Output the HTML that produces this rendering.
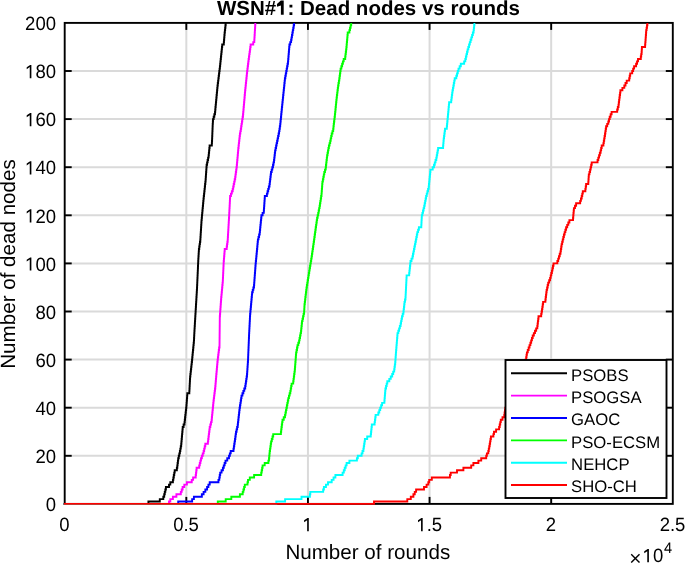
<!DOCTYPE html>
<html><head><meta charset="utf-8"><style>
html,body{margin:0;padding:0;background:#fff;overflow:hidden}
svg{display:block;will-change:transform}
text{font-family:"Liberation Sans",sans-serif;text-rendering:geometricPrecision}
</style></head><body>
<svg width="685" height="563" viewBox="0 0 685 563">
<rect width="685" height="563" fill="#fff"/>
<g stroke="#dadada" stroke-width="2"><line x1="186.32" y1="22.9" x2="186.32" y2="503.9"/><line x1="307.94" y1="22.9" x2="307.94" y2="503.9"/><line x1="429.56" y1="22.9" x2="429.56" y2="503.9"/><line x1="551.18" y1="22.9" x2="551.18" y2="503.9"/><line x1="64.7" y1="455.80" x2="672.8" y2="455.80"/><line x1="64.7" y1="407.70" x2="672.8" y2="407.70"/><line x1="64.7" y1="359.60" x2="672.8" y2="359.60"/><line x1="64.7" y1="311.50" x2="672.8" y2="311.50"/><line x1="64.7" y1="263.40" x2="672.8" y2="263.40"/><line x1="64.7" y1="215.30" x2="672.8" y2="215.30"/><line x1="64.7" y1="167.20" x2="672.8" y2="167.20"/><line x1="64.7" y1="119.10" x2="672.8" y2="119.10"/><line x1="64.7" y1="71.00" x2="672.8" y2="71.00"/></g>
<g stroke="#000" stroke-width="1.9"><line x1="186.32" y1="503.9" x2="186.32" y2="496.9"/><line x1="186.32" y1="22.9" x2="186.32" y2="29.9"/><line x1="307.94" y1="503.9" x2="307.94" y2="496.9"/><line x1="307.94" y1="22.9" x2="307.94" y2="29.9"/><line x1="429.56" y1="503.9" x2="429.56" y2="496.9"/><line x1="429.56" y1="22.9" x2="429.56" y2="29.9"/><line x1="551.18" y1="503.9" x2="551.18" y2="496.9"/><line x1="551.18" y1="22.9" x2="551.18" y2="29.9"/><line x1="64.7" y1="455.80" x2="71.7" y2="455.80"/><line x1="672.8" y1="455.80" x2="665.8" y2="455.80"/><line x1="64.7" y1="407.70" x2="71.7" y2="407.70"/><line x1="672.8" y1="407.70" x2="665.8" y2="407.70"/><line x1="64.7" y1="359.60" x2="71.7" y2="359.60"/><line x1="672.8" y1="359.60" x2="665.8" y2="359.60"/><line x1="64.7" y1="311.50" x2="71.7" y2="311.50"/><line x1="672.8" y1="311.50" x2="665.8" y2="311.50"/><line x1="64.7" y1="263.40" x2="71.7" y2="263.40"/><line x1="672.8" y1="263.40" x2="665.8" y2="263.40"/><line x1="64.7" y1="215.30" x2="71.7" y2="215.30"/><line x1="672.8" y1="215.30" x2="665.8" y2="215.30"/><line x1="64.7" y1="167.20" x2="71.7" y2="167.20"/><line x1="672.8" y1="167.20" x2="665.8" y2="167.20"/><line x1="64.7" y1="119.10" x2="71.7" y2="119.10"/><line x1="672.8" y1="119.10" x2="665.8" y2="119.10"/><line x1="64.7" y1="71.00" x2="71.7" y2="71.00"/><line x1="672.8" y1="71.00" x2="665.8" y2="71.00"/></g>
<rect x="64.7" y="22.9" width="608.0999999999999" height="481.0" fill="none" stroke="#000" stroke-width="1.9"/>
<path d="M63.70,503.90L148.40,503.90L148.40,503.90L148.40,501.50L158.90,501.50L159.80,501.50L159.80,499.09L162.40,499.09L163.30,499.09L163.30,496.69L164.20,496.69L164.20,494.28L164.77,494.28L164.77,491.88L165.33,491.88L165.33,489.47L165.90,489.47L165.90,487.06L167.70,487.06L169.00,487.06L169.00,484.66L170.30,484.66L170.30,482.25L172.90,482.25L172.90,479.85L173.35,479.85L173.35,477.44L173.80,477.44L173.80,475.04L174.25,475.04L174.25,472.63L174.70,472.63L174.70,470.23L176.40,470.23L176.85,470.23L176.85,467.82L177.30,467.82L177.30,465.42L177.60,465.42L177.60,463.01L177.90,463.01L177.90,460.61L178.20,460.61L178.20,458.20L178.77,458.20L178.77,455.80L179.33,455.80L179.33,453.39L179.90,453.39L179.90,450.99L180.33,450.99L180.33,448.58L180.77,448.58L180.77,446.18L181.20,446.18L181.20,443.77L181.41,443.77L181.41,441.37L181.63,441.37L181.63,438.96L181.84,438.96L181.84,436.56L182.06,436.56L182.06,434.15L182.27,434.15L182.27,431.75L182.49,431.75L182.49,429.34L182.70,429.34L182.70,426.94L183.60,426.94L183.60,424.53L184.50,424.53L184.50,422.13L184.77,422.13L184.77,419.72L185.04,419.72L185.04,417.32L185.31,417.32L185.31,414.91L185.59,414.91L185.59,412.51L185.86,412.51L185.86,410.11L186.13,410.11L186.13,407.70L186.40,407.70L186.40,405.29L186.58,405.29L186.58,402.89L186.76,402.89L186.76,400.49L186.94,400.49L186.94,398.08L187.12,398.08L187.12,395.67L187.30,395.67L187.30,393.27L189.20,393.27L189.33,393.27L189.33,390.87L189.46,390.87L189.46,388.46L189.59,388.46L189.59,386.06L189.71,386.06L189.71,383.65L189.84,383.65L189.84,381.25L189.97,381.25L189.97,378.84L190.10,378.84L190.10,376.44L190.37,376.44L190.37,374.03L190.64,374.03L190.64,371.62L190.91,371.62L190.91,369.22L191.19,369.22L191.19,366.81L191.46,366.81L191.46,364.41L191.73,364.41L191.73,362.00L192.00,362.00L192.00,359.60L192.24,359.60L192.24,357.19L192.47,357.19L192.47,354.79L192.71,354.79L192.71,352.38L192.95,352.38L192.95,349.98L193.19,349.98L193.19,347.57L193.43,347.57L193.43,345.17L193.66,345.17L193.66,342.76L193.90,342.76L193.90,340.36L194.03,340.36L194.03,337.95L194.15,337.95L194.15,335.55L194.28,335.55L194.28,333.14L194.40,333.14L194.40,330.74L194.54,330.74L194.54,328.33L194.69,328.33L194.69,325.93L194.83,325.93L194.83,323.52L194.97,323.52L194.97,321.12L195.11,321.12L195.11,318.72L195.26,318.72L195.26,316.31L195.40,316.31L195.40,313.90L195.55,313.90L195.55,311.50L195.69,311.50L195.69,309.10L195.84,309.10L195.84,306.69L195.98,306.69L195.98,304.28L196.13,304.28L196.13,301.88L196.27,301.88L196.27,299.48L196.42,299.48L196.42,297.07L196.56,297.07L196.56,294.66L196.71,294.66L196.71,292.26L196.85,292.26L196.85,289.86L197.00,289.86L197.00,287.45L197.11,287.45L197.11,285.04L197.22,285.04L197.22,282.64L197.32,282.64L197.32,280.24L197.43,280.24L197.43,277.83L197.54,277.83L197.54,275.42L197.65,275.42L197.65,273.02L197.76,273.02L197.76,270.62L197.87,270.62L197.87,268.21L197.98,268.21L197.98,265.81L198.08,265.81L198.08,263.40L198.19,263.40L198.19,261.00L198.30,261.00L198.30,258.59L198.45,258.59L198.45,256.19L198.60,256.19L198.60,253.78L198.75,253.78L198.75,251.38L198.90,251.38L198.90,248.97L199.25,248.97L199.25,246.56L199.60,246.56L199.60,244.16L199.95,244.16L199.95,241.75L200.30,241.75L200.30,239.35L200.45,239.35L200.45,236.94L200.60,236.94L200.60,234.54L200.75,234.54L200.75,232.13L200.90,232.13L200.90,229.73L201.05,229.73L201.05,227.32L201.20,227.32L201.20,224.92L201.35,224.92L201.35,222.51L201.50,222.51L201.50,220.11L201.72,220.11L201.72,217.70L201.94,217.70L201.94,215.30L202.17,215.30L202.17,212.89L202.39,212.89L202.39,210.49L202.61,210.49L202.61,208.08L202.83,208.08L202.83,205.68L203.06,205.68L203.06,203.27L203.28,203.27L203.28,200.87L203.50,200.87L203.50,198.46L203.76,198.46L203.76,196.06L204.03,196.06L204.03,193.66L204.29,193.66L204.29,191.25L204.55,191.25L204.55,188.85L204.81,188.85L204.81,186.44L205.07,186.44L205.07,184.04L205.34,184.04L205.34,181.63L205.60,181.63L205.60,179.23L205.77,179.23L205.77,176.82L205.93,176.82L205.93,174.42L206.10,174.42L206.10,172.01L206.27,172.01L206.27,169.61L206.43,169.61L206.43,167.20L206.60,167.20L206.60,164.80L207.10,164.80L207.10,162.39L207.60,162.39L207.60,159.99L208.10,159.99L208.10,157.58L208.60,157.58L208.60,155.18L208.85,155.18L208.85,152.77L209.10,152.77L209.10,150.37L209.35,150.37L209.35,147.96L209.60,147.96L209.60,145.56L211.70,145.56L211.83,145.56L211.83,143.15L211.97,143.15L211.97,140.75L212.10,140.75L212.10,138.34L212.20,138.34L212.20,135.94L212.30,135.94L212.30,133.53L212.40,133.53L212.40,131.12L212.50,131.12L212.50,128.72L212.60,128.72L212.60,126.31L212.70,126.31L212.70,123.91L212.85,123.91L212.85,121.50L213.00,121.50L213.00,119.10L213.67,119.10L213.67,116.69L214.33,116.69L214.33,114.29L215.00,114.29L215.00,111.88L215.23,111.88L215.23,109.48L215.45,109.48L215.45,107.07L215.68,107.07L215.68,104.67L215.91,104.67L215.91,102.26L216.14,102.26L216.14,99.86L216.36,99.86L216.36,97.45L216.59,97.45L216.59,95.05L216.82,95.05L216.82,92.65L217.05,92.65L217.05,90.24L217.27,90.24L217.27,87.84L217.50,87.84L217.50,85.43L217.80,85.43L217.80,83.03L218.10,83.03L218.10,80.62L218.40,80.62L218.40,78.22L218.70,78.22L218.70,75.81L219.00,75.81L219.00,73.41L219.30,73.41L219.30,71.00L219.60,71.00L219.60,68.60L219.90,68.60L219.90,66.19L220.16,66.19L220.16,63.79L220.41,63.79L220.41,61.38L220.67,61.38L220.67,58.98L220.92,58.98L220.92,56.57L221.18,56.57L221.18,54.17L221.43,54.17L221.43,51.76L221.69,51.76L221.69,49.36L221.94,49.36L221.94,46.95L222.20,46.95L222.20,44.55L223.60,44.55L223.80,44.55L223.80,42.14L224.00,42.14L224.00,39.74L224.20,39.74L224.20,37.33L224.40,37.33L224.40,34.93L224.60,34.93L224.60,32.52L224.88,32.52L224.88,30.12L225.15,30.12L225.15,27.71L225.42,27.71L225.42,25.31L225.70,25.31L225.70,22.90" fill="none" stroke="#000000" stroke-width="1.9" stroke-linejoin="miter"/>
<path d="M63.70,503.90L168.50,503.90L169.00,503.90L169.00,501.50L170.30,501.50L170.30,499.09L172.90,499.09L172.90,496.69L176.40,496.69L176.40,494.28L180.80,494.28L180.80,491.88L181.70,491.88L181.70,489.47L182.60,489.47L182.60,487.06L184.30,487.06L184.30,484.66L186.90,484.66L186.90,482.25L190.40,482.25L191.75,482.25L191.75,479.85L193.10,479.85L193.10,477.44L195.70,477.44L195.70,475.04L196.00,475.04L196.00,472.63L196.30,472.63L196.30,470.23L196.60,470.23L196.60,467.82L199.20,467.82L199.20,465.42L199.80,465.42L199.80,463.01L200.40,463.01L200.40,460.61L201.00,460.61L201.00,458.20L201.87,458.20L201.87,455.80L202.73,455.80L202.73,453.39L203.60,453.39L203.60,450.99L204.17,450.99L204.17,448.58L204.73,448.58L204.73,446.18L205.30,446.18L205.30,443.77L207.90,443.77L207.90,441.37L208.20,441.37L208.20,438.96L208.50,438.96L208.50,436.56L208.80,436.56L208.80,434.15L209.10,434.15L209.10,431.75L209.40,431.75L209.40,429.34L209.70,429.34L209.70,426.94L210.33,426.94L210.33,424.53L210.97,424.53L210.97,422.13L211.60,422.13L211.60,419.72L211.84,419.72L211.84,417.32L212.07,417.32L212.07,414.91L212.31,414.91L212.31,412.51L212.55,412.51L212.55,410.11L212.79,410.11L212.79,407.70L213.03,407.70L213.03,405.29L213.26,405.29L213.26,402.89L213.50,402.89L213.50,400.49L213.80,400.49L213.80,398.08L214.10,398.08L214.10,395.67L214.40,395.67L214.40,393.27L214.70,393.27L214.70,390.87L215.00,390.87L215.00,388.46L215.30,388.46L215.30,386.06L215.50,386.06L215.50,383.65L215.70,383.65L215.70,381.25L215.90,381.25L215.90,378.84L216.10,378.84L216.10,376.44L216.30,376.44L216.30,374.03L216.52,374.03L216.52,371.62L216.73,371.62L216.73,369.22L216.95,369.22L216.95,366.81L217.17,366.81L217.17,364.41L217.38,364.41L217.38,362.00L217.60,362.00L217.60,359.60L217.90,359.60L217.90,357.19L218.20,357.19L218.20,354.79L218.50,354.79L218.50,352.38L218.80,352.38L218.80,349.98L219.10,349.98L219.10,347.57L219.50,347.57L219.50,345.17L219.53,345.17L219.53,342.76L219.55,342.76L219.55,340.36L219.57,340.36L219.57,337.95L219.60,337.95L219.60,335.55L219.62,335.55L219.62,333.14L219.65,333.14L219.65,330.74L219.68,330.74L219.68,328.33L219.70,328.33L219.70,325.93L219.73,325.93L219.73,323.52L219.75,323.52L219.75,321.12L219.78,321.12L219.78,318.72L219.80,318.72L219.80,316.31L219.98,316.31L219.98,313.90L220.15,313.90L220.15,311.50L220.32,311.50L220.32,309.10L220.50,309.10L220.50,306.69L220.68,306.69L220.68,304.28L220.85,304.28L220.85,301.88L221.02,301.88L221.02,299.48L221.20,299.48L221.20,297.07L221.43,297.07L221.43,294.66L221.66,294.66L221.66,292.26L221.89,292.26L221.89,289.86L222.11,289.86L222.11,287.45L222.34,287.45L222.34,285.04L222.57,285.04L222.57,282.64L222.80,282.64L222.80,280.24L222.91,280.24L222.91,277.83L223.03,277.83L223.03,275.42L223.14,275.42L223.14,273.02L223.25,273.02L223.25,270.62L223.36,270.62L223.36,268.21L223.47,268.21L223.47,265.81L223.59,265.81L223.59,263.40L223.70,263.40L223.70,261.00L223.90,261.00L223.90,258.59L224.10,258.59L224.10,256.19L224.30,256.19L224.30,253.78L224.50,253.78L224.50,251.38L224.70,251.38L224.70,248.97L226.70,248.97L226.70,246.56L227.03,246.56L227.03,244.16L227.37,244.16L227.37,241.75L227.70,241.75L227.70,239.35L227.84,239.35L227.84,236.94L227.98,236.94L227.98,234.54L228.12,234.54L228.12,232.13L228.26,232.13L228.26,229.73L228.40,229.73L228.40,227.32L228.54,227.32L228.54,224.92L228.68,224.92L228.68,222.51L228.82,222.51L228.82,220.11L228.96,220.11L228.96,217.70L229.10,217.70L229.10,215.30L229.22,215.30L229.22,212.89L229.35,212.89L229.35,210.49L229.47,210.49L229.47,208.08L229.60,208.08L229.60,205.68L229.72,205.68L229.72,203.27L229.85,203.27L229.85,200.87L229.97,200.87L229.97,198.46L230.10,198.46L230.10,196.06L230.97,196.06L230.97,193.66L231.83,193.66L231.83,191.25L232.70,191.25L232.70,188.85L233.20,188.85L233.20,186.44L233.70,186.44L233.70,184.04L234.20,184.04L234.20,181.63L234.70,181.63L234.70,179.23L235.20,179.23L235.20,176.82L235.52,176.82L235.52,174.42L235.84,174.42L235.84,172.01L236.16,172.01L236.16,169.61L236.48,169.61L236.48,167.20L236.80,167.20L236.80,164.80L237.01,164.80L237.01,162.39L237.23,162.39L237.23,159.99L237.44,159.99L237.44,157.58L237.66,157.58L237.66,155.18L237.87,155.18L237.87,152.77L238.09,152.77L238.09,150.37L238.30,150.37L238.30,147.96L238.57,147.96L238.57,145.56L238.83,145.56L238.83,143.15L239.10,143.15L239.10,140.75L239.37,140.75L239.37,138.34L239.63,138.34L239.63,135.94L239.90,135.94L239.90,133.53L240.35,133.53L240.35,131.12L240.80,131.12L240.80,128.72L241.17,128.72L241.17,126.31L241.53,126.31L241.53,123.91L241.90,123.91L241.90,121.50L242.27,121.50L242.27,119.10L242.63,119.10L242.63,116.69L243.00,116.69L243.00,114.29L243.21,114.29L243.21,111.88L243.42,111.88L243.42,109.48L243.63,109.48L243.63,107.07L243.84,107.07L243.84,104.67L244.05,104.67L244.05,102.26L244.26,102.26L244.26,99.86L244.47,99.86L244.47,97.45L244.68,97.45L244.68,95.05L244.89,95.05L244.89,92.65L245.10,92.65L245.10,90.24L245.35,90.24L245.35,87.84L245.60,87.84L245.60,85.43L245.85,85.43L245.85,83.03L246.10,83.03L246.10,80.62L246.35,80.62L246.35,78.22L246.60,78.22L246.60,75.81L246.85,75.81L246.85,73.41L247.10,73.41L247.10,71.00L247.40,71.00L247.40,68.60L247.70,68.60L247.70,66.19L248.00,66.19L248.00,63.79L248.30,63.79L248.30,61.38L248.60,61.38L248.60,58.98L248.93,58.98L248.93,56.57L249.27,56.57L249.27,54.17L249.60,54.17L249.60,51.76L249.93,51.76L249.93,49.36L250.27,49.36L250.27,46.95L250.60,46.95L250.60,44.55L252.20,44.55L253.25,44.55L253.25,42.14L254.30,42.14L254.30,39.74L254.44,39.74L254.44,37.33L254.59,37.33L254.59,34.93L254.73,34.93L254.73,32.52L254.87,32.52L254.87,30.12L255.01,30.12L255.01,27.71L255.16,27.71L255.16,25.31L255.30,25.31L255.30,22.90" fill="none" stroke="#ff00ff" stroke-width="1.9" stroke-linejoin="miter"/>
<path d="M63.70,503.90L178.20,503.90L178.20,503.90L178.20,501.50L190.40,501.50L192.15,501.50L192.15,499.09L193.90,499.09L193.90,496.69L200.10,496.69L201.85,496.69L201.85,494.28L203.60,494.28L203.60,491.88L205.35,491.88L205.35,489.47L207.10,489.47L207.10,487.06L208.40,487.06L208.40,484.66L209.70,484.66L209.70,482.25L212.30,482.25L217.60,482.25L218.45,482.25L218.45,479.85L219.30,479.85L219.30,477.44L219.75,477.44L219.75,475.04L220.20,475.04L220.20,472.63L221.55,472.63L221.55,470.23L222.90,470.23L222.90,467.82L223.77,467.82L223.77,465.42L224.63,465.42L224.63,463.01L225.50,463.01L225.50,460.61L227.25,460.61L227.25,458.20L229.00,458.20L229.00,455.80L229.85,455.80L229.85,453.39L230.70,453.39L230.70,450.99L233.50,450.99L233.50,448.58L233.88,448.58L233.88,446.18L234.25,446.18L234.25,443.77L234.62,443.77L234.62,441.37L235.00,441.37L235.00,438.96L235.33,438.96L235.33,436.56L235.67,436.56L235.67,434.15L236.00,434.15L236.00,431.75L236.57,431.75L236.57,429.34L237.13,429.34L237.13,426.94L237.70,426.94L237.70,424.53L237.97,424.53L237.97,422.13L238.24,422.13L238.24,419.72L238.51,419.72L238.51,417.32L238.79,417.32L238.79,414.91L239.06,414.91L239.06,412.51L239.33,412.51L239.33,410.11L239.60,410.11L239.60,407.70L239.98,407.70L239.98,405.29L240.36,405.29L240.36,402.89L240.74,402.89L240.74,400.49L241.12,400.49L241.12,398.08L241.50,398.08L241.50,395.67L242.43,395.67L242.43,393.27L243.35,393.27L243.35,390.87L244.27,390.87L244.27,388.46L245.20,388.46L245.20,386.06L245.56,386.06L245.56,383.65L245.92,383.65L245.92,381.25L246.28,381.25L246.28,378.84L246.64,378.84L246.64,376.44L247.00,376.44L247.00,374.03L247.17,374.03L247.17,371.62L247.33,371.62L247.33,369.22L247.50,369.22L247.50,366.81L247.67,366.81L247.67,364.41L247.83,364.41L247.83,362.00L248.00,362.00L248.00,359.60L248.10,359.60L248.10,357.19L248.20,357.19L248.20,354.79L248.30,354.79L248.30,352.38L248.40,352.38L248.40,349.98L248.50,349.98L248.50,347.57L248.60,347.57L248.60,345.17L248.70,345.17L248.70,342.76L248.80,342.76L248.80,340.36L248.90,340.36L248.90,337.95L249.00,337.95L249.00,335.55L249.10,335.55L249.10,333.14L249.22,333.14L249.22,330.74L249.35,330.74L249.35,328.33L249.47,328.33L249.47,325.93L249.60,325.93L249.60,323.52L249.72,323.52L249.72,321.12L249.85,321.12L249.85,318.72L249.97,318.72L249.97,316.31L250.10,316.31L250.10,313.90L250.32,313.90L250.32,311.50L250.54,311.50L250.54,309.10L250.77,309.10L250.77,306.69L250.99,306.69L250.99,304.28L251.21,304.28L251.21,301.88L251.43,301.88L251.43,299.48L251.66,299.48L251.66,297.07L251.88,297.07L251.88,294.66L252.10,294.66L252.10,292.26L252.73,292.26L252.73,289.86L253.37,289.86L253.37,287.45L254.00,287.45L254.00,285.04L254.18,285.04L254.18,282.64L254.36,282.64L254.36,280.24L254.53,280.24L254.53,277.83L254.71,277.83L254.71,275.42L254.89,275.42L254.89,273.02L255.07,273.02L255.07,270.62L255.24,270.62L255.24,268.21L255.42,268.21L255.42,265.81L255.60,265.81L255.60,263.40L255.83,263.40L255.83,261.00L256.07,261.00L256.07,258.59L256.30,258.59L256.30,256.19L256.53,256.19L256.53,253.78L256.77,253.78L256.77,251.38L257.00,251.38L257.00,248.97L257.23,248.97L257.23,246.56L257.45,246.56L257.45,244.16L257.67,244.16L257.67,241.75L257.90,241.75L257.90,239.35L258.50,239.35L258.50,236.94L259.10,236.94L259.10,234.54L259.70,234.54L259.70,232.13L259.94,232.13L259.94,229.73L260.19,229.73L260.19,227.32L260.43,227.32L260.43,224.92L260.67,224.92L260.67,222.51L260.91,222.51L260.91,220.11L261.16,220.11L261.16,217.70L261.40,217.70L261.40,215.30L262.60,215.30L262.60,212.89L263.80,212.89L263.80,210.49L263.97,210.49L263.97,208.08L264.13,208.08L264.13,205.68L264.30,205.68L264.30,203.27L264.47,203.27L264.47,200.87L264.63,200.87L264.63,198.46L264.80,198.46L264.80,196.06L266.90,196.06L266.90,193.66L267.55,193.66L267.55,191.25L268.20,191.25L268.20,188.85L268.85,188.85L268.85,186.44L269.50,186.44L269.50,184.04L269.80,184.04L269.80,181.63L270.10,181.63L270.10,179.23L270.40,179.23L270.40,176.82L270.70,176.82L270.70,174.42L271.00,174.42L271.00,172.01L271.67,172.01L271.67,169.61L272.33,169.61L272.33,167.20L273.00,167.20L273.00,164.80L273.50,164.80L273.50,162.39L274.00,162.39L274.00,159.99L274.27,159.99L274.27,157.58L274.55,157.58L274.55,155.18L274.83,155.18L274.83,152.77L275.10,152.77L275.10,150.37L275.60,150.37L275.60,147.96L276.10,147.96L276.10,145.56L276.60,145.56L276.60,143.15L277.10,143.15L277.10,140.75L277.60,140.75L277.60,138.34L278.10,138.34L278.10,135.94L278.60,135.94L278.60,133.53L279.10,133.53L279.10,131.12L279.47,131.12L279.47,128.72L279.83,128.72L279.83,126.31L280.20,126.31L280.20,123.91L280.44,123.91L280.44,121.50L280.69,121.50L280.69,119.10L280.93,119.10L280.93,116.69L281.17,116.69L281.17,114.29L281.41,114.29L281.41,111.88L281.66,111.88L281.66,109.48L281.90,109.48L281.90,107.07L282.15,107.07L282.15,104.67L282.40,104.67L282.40,102.26L282.65,102.26L282.65,99.86L282.90,99.86L282.90,97.45L283.15,97.45L283.15,95.05L283.40,95.05L283.40,92.65L283.65,92.65L283.65,90.24L283.90,90.24L283.90,87.84L284.15,87.84L284.15,85.43L284.40,85.43L284.40,83.03L284.65,83.03L284.65,80.62L284.90,80.62L284.90,78.22L285.34,78.22L285.34,75.81L285.79,75.81L285.79,73.41L286.23,73.41L286.23,71.00L286.67,71.00L286.67,68.60L287.11,68.60L287.11,66.19L287.56,66.19L287.56,63.79L288.00,63.79L288.00,61.38L288.20,61.38L288.20,58.98L288.40,58.98L288.40,56.57L288.60,56.57L288.60,54.17L288.80,54.17L288.80,51.76L289.00,51.76L289.00,49.36L289.20,49.36L289.20,46.95L289.40,46.95L289.40,44.55L290.25,44.55L290.25,42.14L291.10,42.14L291.10,39.74L291.53,39.74L291.53,37.33L291.96,37.33L291.96,34.93L292.39,34.93L292.39,32.52L292.81,32.52L292.81,30.12L293.24,30.12L293.24,27.71L293.67,27.71L293.67,25.31L294.10,25.31L294.10,22.90" fill="none" stroke="#0000ff" stroke-width="1.9" stroke-linejoin="miter"/>
<path d="M63.70,503.90L217.80,503.90L217.80,503.90L217.80,501.50L224.90,501.50L225.70,501.50L225.70,499.09L230.60,499.09L231.30,499.09L231.30,496.69L239.10,496.69L239.90,496.69L239.90,494.28L242.00,494.28L242.70,494.28L242.70,491.88L243.40,491.88L243.40,489.47L244.10,489.47L244.10,487.06L244.80,487.06L244.80,484.66L247.00,484.66L247.50,484.66L247.50,482.25L248.00,482.25L248.00,479.85L249.80,479.85L249.80,477.44L253.40,477.44L254.10,477.44L254.10,475.04L259.70,475.04L261.20,475.04L261.20,472.63L261.67,472.63L261.67,470.23L262.13,470.23L262.13,467.82L262.60,467.82L262.60,465.42L264.70,465.42L264.70,463.01L267.80,463.01L268.40,463.01L268.40,460.61L269.00,460.61L269.00,458.20L269.23,458.20L269.23,455.80L269.47,455.80L269.47,453.39L269.70,453.39L269.70,450.99L270.05,450.99L270.05,448.58L270.40,448.58L270.40,446.18L270.75,446.18L270.75,443.77L271.10,443.77L271.10,441.37L271.80,441.37L271.80,438.96L272.50,438.96L272.50,436.56L273.20,436.56L273.20,434.15L280.60,434.15L280.90,434.15L280.90,431.75L281.20,431.75L281.20,429.34L281.50,429.34L281.50,426.94L281.80,426.94L281.80,424.53L282.15,424.53L282.15,422.13L282.50,422.13L282.50,419.72L283.75,419.72L283.75,417.32L285.00,417.32L285.00,414.91L285.47,414.91L285.47,412.51L285.93,412.51L285.93,410.11L286.40,410.11L286.40,407.70L286.88,407.70L286.88,405.29L287.35,405.29L287.35,402.89L287.82,402.89L287.82,400.49L288.30,400.49L288.30,398.08L288.97,398.08L288.97,395.67L289.63,395.67L289.63,393.27L290.30,393.27L290.30,390.87L290.73,390.87L290.73,388.46L291.17,388.46L291.17,386.06L291.60,386.06L291.60,383.65L293.20,383.65L293.20,381.25L293.52,381.25L293.52,378.84L293.84,378.84L293.84,376.44L294.16,376.44L294.16,374.03L294.48,374.03L294.48,371.62L294.80,371.62L294.80,369.22L294.99,369.22L294.99,366.81L295.17,366.81L295.17,364.41L295.36,364.41L295.36,362.00L295.54,362.00L295.54,359.60L295.73,359.60L295.73,357.19L295.91,357.19L295.91,354.79L296.10,354.79L296.10,352.38L296.57,352.38L296.57,349.98L297.03,349.98L297.03,347.57L297.50,347.57L297.50,345.17L298.30,345.17L298.30,342.76L299.10,342.76L299.10,340.36L299.58,340.36L299.58,337.95L300.05,337.95L300.05,335.55L300.52,335.55L300.52,333.14L301.00,333.14L301.00,330.74L301.25,330.74L301.25,328.33L301.50,328.33L301.50,325.93L301.75,325.93L301.75,323.52L302.00,323.52L302.00,321.12L302.52,321.12L302.52,318.72L303.05,318.72L303.05,316.31L303.58,316.31L303.58,313.90L304.10,313.90L304.10,311.50L304.23,311.50L304.23,309.10L304.37,309.10L304.37,306.69L304.50,306.69L304.50,304.28L304.79,304.28L304.79,301.88L305.07,301.88L305.07,299.48L305.36,299.48L305.36,297.07L305.64,297.07L305.64,294.66L305.93,294.66L305.93,292.26L306.21,292.26L306.21,289.86L306.50,289.86L306.50,287.45L306.89,287.45L306.89,285.04L307.27,285.04L307.27,282.64L307.66,282.64L307.66,280.24L308.05,280.24L308.05,277.83L308.44,277.83L308.44,275.42L308.83,275.42L308.83,273.02L309.21,273.02L309.21,270.62L309.60,270.62L309.60,268.21L310.00,268.21L310.00,265.81L310.40,265.81L310.40,263.40L310.80,263.40L310.80,261.00L311.20,261.00L311.20,258.59L311.60,258.59L311.60,256.19L311.95,256.19L311.95,253.78L312.30,253.78L312.30,251.38L312.65,251.38L312.65,248.97L313.00,248.97L313.00,246.56L313.35,246.56L313.35,244.16L313.70,244.16L313.70,241.75L314.03,241.75L314.03,239.35L314.37,239.35L314.37,236.94L314.70,236.94L314.70,234.54L315.03,234.54L315.03,232.13L315.37,232.13L315.37,229.73L315.70,229.73L315.70,227.32L316.05,227.32L316.05,224.92L316.40,224.92L316.40,222.51L316.75,222.51L316.75,220.11L317.10,220.11L317.10,217.70L317.65,217.70L317.65,215.30L318.20,215.30L318.20,212.89L318.67,212.89L318.67,210.49L319.13,210.49L319.13,208.08L319.60,208.08L319.60,205.68L319.98,205.68L319.98,203.27L320.36,203.27L320.36,200.87L320.74,200.87L320.74,198.46L321.12,198.46L321.12,196.06L321.50,196.06L321.50,193.66L321.68,193.66L321.68,191.25L321.86,191.25L321.86,188.85L322.04,188.85L322.04,186.44L322.22,186.44L322.22,184.04L322.40,184.04L322.40,181.63L322.88,181.63L322.88,179.23L323.35,179.23L323.35,176.82L323.82,176.82L323.82,174.42L324.30,174.42L324.30,172.01L325.00,172.01L325.00,169.61L325.70,169.61L325.70,167.20L325.98,167.20L325.98,164.80L326.26,164.80L326.26,162.39L326.54,162.39L326.54,159.99L326.82,159.99L326.82,157.58L327.10,157.58L327.10,155.18L327.55,155.18L327.55,152.77L328.00,152.77L328.00,150.37L328.45,150.37L328.45,147.96L328.90,147.96L328.90,145.56L329.55,145.56L329.55,143.15L330.20,143.15L330.20,140.75L330.70,140.75L330.70,138.34L331.20,138.34L331.20,135.94L331.70,135.94L331.70,133.53L332.45,133.53L332.45,131.12L333.20,131.12L333.20,128.72L333.47,128.72L333.47,126.31L333.73,126.31L333.73,123.91L334.00,123.91L334.00,121.50L334.30,121.50L334.30,119.10L334.60,119.10L334.60,116.69L334.90,116.69L334.90,114.29L335.14,114.29L335.14,111.88L335.39,111.88L335.39,109.48L335.63,109.48L335.63,107.07L335.87,107.07L335.87,104.67L336.11,104.67L336.11,102.26L336.36,102.26L336.36,99.86L336.60,99.86L336.60,97.45L336.90,97.45L336.90,95.05L337.20,95.05L337.20,92.65L337.50,92.65L337.50,90.24L337.80,90.24L337.80,87.84L338.10,87.84L338.10,85.43L338.50,85.43L338.50,83.03L338.90,83.03L338.90,80.62L339.30,80.62L339.30,78.22L339.62,78.22L339.62,75.81L339.95,75.81L339.95,73.41L340.28,73.41L340.28,71.00L340.60,71.00L340.60,68.60L341.37,68.60L341.37,66.19L342.13,66.19L342.13,63.79L342.90,63.79L342.90,61.38L343.70,61.38L343.70,58.98L345.20,58.98L345.20,56.57L345.50,56.57L345.50,54.17L345.80,54.17L345.80,51.76L346.10,51.76L346.10,49.36L346.40,49.36L346.40,46.95L346.62,46.95L346.62,44.55L346.83,44.55L346.83,42.14L347.05,42.14L347.05,39.74L347.27,39.74L347.27,37.33L347.48,37.33L347.48,34.93L347.70,34.93L347.70,32.52L349.40,32.52L349.40,30.12L350.00,30.12L350.00,27.71L350.60,27.71L350.60,25.31L351.20,25.31L351.20,22.90" fill="none" stroke="#00ff00" stroke-width="1.9" stroke-linejoin="miter"/>
<path d="M63.70,503.90L276.30,503.90L276.30,503.90L276.30,501.50L284.50,501.50L285.10,501.50L285.10,499.09L300.50,499.09L301.50,499.09L301.50,496.69L309.50,496.69L309.90,496.69L309.90,494.28L310.30,494.28L310.30,491.88L322.40,491.88L323.15,491.88L323.15,489.47L323.90,489.47L323.90,487.06L325.95,487.06L325.95,484.66L328.00,484.66L328.00,482.25L331.70,482.25L331.70,479.85L333.55,479.85L333.55,477.44L335.40,477.44L335.40,475.04L341.40,475.04L342.60,475.04L342.60,472.63L343.80,472.63L343.80,470.23L344.73,470.23L344.73,467.82L345.67,467.82L345.67,465.42L346.60,465.42L346.60,463.01L349.40,463.01L349.40,460.61L356.00,460.61L356.90,460.61L356.90,458.20L357.80,458.20L357.80,455.80L361.60,455.80L361.60,453.39L362.50,453.39L362.50,450.99L363.40,450.99L363.40,448.58L363.77,448.58L363.77,446.18L364.15,446.18L364.15,443.77L364.52,443.77L364.52,441.37L364.90,441.37L364.90,438.96L367.20,438.96L367.20,436.56L370.50,436.56L370.76,436.56L370.76,434.15L371.02,434.15L371.02,431.75L371.28,431.75L371.28,429.34L371.54,429.34L371.54,426.94L371.80,426.94L371.80,424.53L374.60,424.53L374.60,422.13L374.93,422.13L374.93,419.72L375.27,419.72L375.27,417.32L375.60,417.32L375.60,414.91L377.40,414.91L378.33,414.91L378.33,412.51L379.27,412.51L379.27,410.11L380.20,410.11L380.20,407.70L381.15,407.70L381.15,405.29L382.10,405.29L382.10,402.89L384.40,402.89L384.40,400.49L384.60,400.49L384.60,398.08L384.80,398.08L384.80,395.67L385.00,395.67L385.00,393.27L385.20,393.27L385.20,390.87L385.40,390.87L385.40,388.46L386.03,388.46L386.03,386.06L386.67,386.06L386.67,383.65L387.30,383.65L387.30,381.25L389.30,381.25L389.30,378.84L390.75,378.84L390.75,376.44L392.20,376.44L392.20,374.03L393.20,374.03L393.20,371.62L394.20,371.62L394.20,369.22L394.53,369.22L394.53,366.81L394.87,366.81L394.87,364.41L395.20,364.41L395.20,362.00L395.38,362.00L395.38,359.60L395.56,359.60L395.56,357.19L395.74,357.19L395.74,354.79L395.92,354.79L395.92,352.38L396.10,352.38L396.10,349.98L396.30,349.98L396.30,347.57L396.50,347.57L396.50,345.17L396.70,345.17L396.70,342.76L396.90,342.76L396.90,340.36L397.10,340.36L397.10,337.95L397.30,337.95L397.30,335.55L397.50,335.55L397.50,333.14L398.30,333.14L398.30,330.74L399.10,330.74L399.10,328.33L399.85,328.33L399.85,325.93L400.60,325.93L400.60,323.52L401.07,323.52L401.07,321.12L401.53,321.12L401.53,318.72L402.00,318.72L402.00,316.31L402.70,316.31L402.70,313.90L403.40,313.90L403.40,311.50L403.67,311.50L403.67,309.10L403.95,309.10L403.95,306.69L404.23,306.69L404.23,304.28L404.50,304.28L404.50,301.88L405.00,301.88L405.00,299.48L405.50,299.48L405.50,297.07L405.62,297.07L405.62,294.66L405.74,294.66L405.74,292.26L405.87,292.26L405.87,289.86L405.99,289.86L405.99,287.45L406.11,287.45L406.11,285.04L406.23,285.04L406.23,282.64L406.36,282.64L406.36,280.24L406.48,280.24L406.48,277.83L406.60,277.83L406.60,275.42L408.90,275.42L409.17,275.42L409.17,273.02L409.43,273.02L409.43,270.62L409.70,270.62L409.70,268.21L409.97,268.21L409.97,265.81L410.23,265.81L410.23,263.40L410.50,263.40L410.50,261.00L411.50,261.00L411.50,258.59L412.50,258.59L412.50,256.19L412.98,256.19L412.98,253.78L413.47,253.78L413.47,251.38L413.95,251.38L413.95,248.97L414.43,248.97L414.43,246.56L414.92,246.56L414.92,244.16L415.40,244.16L415.40,241.75L415.88,241.75L415.88,239.35L416.35,239.35L416.35,236.94L416.82,236.94L416.82,234.54L417.30,234.54L417.30,232.13L418.10,232.13L418.10,229.73L418.90,229.73L418.90,227.32L421.30,227.32L421.30,224.92L421.43,224.92L421.43,222.51L421.55,222.51L421.55,220.11L421.68,220.11L421.68,217.70L421.80,217.70L421.80,215.30L422.40,215.30L422.40,212.89L423.00,212.89L423.00,210.49L423.60,210.49L423.60,208.08L424.20,208.08L424.20,205.68L424.68,205.68L424.68,203.27L425.15,203.27L425.15,200.87L425.62,200.87L425.62,198.46L426.10,198.46L426.10,196.06L426.75,196.06L426.75,193.66L427.40,193.66L427.40,191.25L428.05,191.25L428.05,188.85L428.70,188.85L428.70,186.44L428.94,186.44L428.94,184.04L429.19,184.04L429.19,181.63L429.43,181.63L429.43,179.23L429.67,179.23L429.67,176.82L429.91,176.82L429.91,174.42L430.16,174.42L430.16,172.01L430.40,172.01L430.40,169.61L432.70,169.61L432.70,167.20L434.00,167.20L434.00,164.80L434.77,164.80L434.77,162.39L435.53,162.39L435.53,159.99L436.30,159.99L436.30,157.58L436.75,157.58L436.75,155.18L437.20,155.18L437.20,152.77L437.65,152.77L437.65,150.37L438.10,150.37L438.10,147.96L442.90,147.96L443.10,147.96L443.10,145.56L443.30,145.56L443.30,143.15L443.50,143.15L443.50,140.75L443.70,140.75L443.70,138.34L444.02,138.34L444.02,135.94L444.35,135.94L444.35,133.53L444.68,133.53L444.68,131.12L445.00,131.12L445.00,128.72L446.80,128.72L446.80,126.31L447.03,126.31L447.03,123.91L447.27,123.91L447.27,121.50L447.50,121.50L447.50,119.10L447.73,119.10L447.73,116.69L447.97,116.69L447.97,114.29L448.20,114.29L448.20,111.88L448.43,111.88L448.43,109.48L448.65,109.48L448.65,107.07L448.88,107.07L448.88,104.67L449.10,104.67L449.10,102.26L450.90,102.26L451.22,102.26L451.22,99.86L451.54,99.86L451.54,97.45L451.86,97.45L451.86,95.05L452.18,95.05L452.18,92.65L452.50,92.65L452.50,90.24L452.94,90.24L452.94,87.84L453.38,87.84L453.38,85.43L453.82,85.43L453.82,83.03L454.26,83.03L454.26,80.62L454.70,80.62L454.70,78.22L456.30,78.22L456.30,75.81L457.03,75.81L457.03,73.41L457.77,73.41L457.77,71.00L458.50,71.00L458.50,68.60L459.65,68.60L459.65,66.19L460.80,66.19L460.80,63.79L463.00,63.79L464.15,63.79L464.15,61.38L465.30,61.38L465.30,58.98L465.88,58.98L465.88,56.57L466.45,56.57L466.45,54.17L467.03,54.17L467.03,51.76L467.60,51.76L467.60,49.36L468.33,49.36L468.33,46.95L469.07,46.95L469.07,44.55L469.80,44.55L469.80,42.14L470.57,42.14L470.57,39.74L471.33,39.74L471.33,37.33L472.10,37.33L472.10,34.93L472.85,34.93L472.85,32.52L473.60,32.52L473.60,30.12L473.87,30.12L473.87,27.71L474.13,27.71L474.13,25.31L474.40,25.31L474.40,22.90" fill="none" stroke="#00ffff" stroke-width="1.9" stroke-linejoin="miter"/>
<path d="M63.70,503.90L373.70,503.90L374.00,503.90L374.00,501.50L406.40,501.50L407.30,501.50L407.30,499.09L410.80,499.09L410.80,496.69L413.40,496.69L413.40,494.28L414.75,494.28L414.75,491.88L416.10,491.88L416.10,489.47L422.20,489.47L424.00,489.47L424.00,487.06L426.60,487.06L426.60,484.66L428.30,484.66L428.30,482.25L429.20,482.25L429.20,479.85L431.80,479.85L431.80,477.44L449.20,477.44L449.95,477.44L449.95,475.04L450.70,475.04L450.70,472.63L456.30,472.63L457.00,472.63L457.00,470.23L462.70,470.23L463.40,470.23L463.40,467.82L469.80,467.82L471.20,467.82L471.20,465.42L473.40,465.42L473.40,463.01L477.60,463.01L478.40,463.01L478.40,460.61L481.20,460.61L481.20,458.20L485.50,458.20L486.20,458.20L486.20,455.80L486.90,455.80L486.90,453.39L488.30,453.39L488.30,450.99L488.77,450.99L488.77,448.58L489.23,448.58L489.23,446.18L489.70,446.18L489.70,443.77L490.10,443.77L490.10,441.37L490.50,441.37L490.50,438.96L490.90,438.96L490.90,436.56L492.80,436.56L493.40,436.56L493.40,434.15L494.00,434.15L494.00,431.75L496.10,431.75L496.10,429.34L498.50,429.34L499.10,429.34L499.10,426.94L499.70,426.94L499.70,424.53L500.25,424.53L500.25,422.13L500.80,422.13L500.80,419.72L502.50,419.72L502.50,417.32L503.90,417.32L504.25,417.32L504.25,414.91L504.60,414.91L504.60,412.51L504.95,412.51L504.95,410.11L505.30,410.11L505.30,407.70L506.38,407.70L506.38,405.29L507.46,405.29L507.46,402.89L508.53,402.89L508.53,400.49L509.61,400.49L509.61,398.08L510.69,398.08L510.69,395.67L511.77,395.67L511.77,393.27L512.84,393.27L512.84,390.87L513.92,390.87L513.92,388.46L515.00,388.46L515.00,386.06L515.95,386.06L515.95,383.65L516.89,383.65L516.89,381.25L517.84,381.25L517.84,378.84L518.78,378.84L518.78,376.44L519.73,376.44L519.73,374.03L520.67,374.03L520.67,371.62L521.62,371.62L521.62,369.22L522.56,369.22L522.56,366.81L523.51,366.81L523.51,364.41L524.45,364.41L524.45,362.00L525.40,362.00L525.40,359.60L525.80,359.60L526.17,359.60L526.17,357.19L526.53,357.19L526.53,354.79L526.90,354.79L526.90,352.38L527.77,352.38L527.77,349.98L528.65,349.98L528.65,347.57L529.52,347.57L529.52,345.17L530.40,345.17L530.40,342.76L531.17,342.76L531.17,340.36L531.93,340.36L531.93,337.95L532.70,337.95L532.70,335.55L533.85,335.55L533.85,333.14L535.00,333.14L535.00,330.74L536.15,330.74L536.15,328.33L537.30,328.33L537.30,325.93L537.60,325.93L537.60,323.52L537.90,323.52L537.90,321.12L538.20,321.12L538.20,318.72L538.50,318.72L538.50,316.31L540.80,316.31L541.20,316.31L541.20,313.90L541.60,313.90L541.60,311.50L542.00,311.50L542.00,309.10L542.37,309.10L542.37,306.69L542.73,306.69L542.73,304.28L543.10,304.28L543.10,301.88L545.40,301.88L545.40,299.48L545.70,299.48L545.70,297.07L546.00,297.07L546.00,294.66L546.30,294.66L546.30,292.26L546.60,292.26L546.60,289.86L547.13,289.86L547.13,287.45L547.67,287.45L547.67,285.04L548.20,285.04L548.20,282.64L549.15,282.64L549.15,280.24L550.10,280.24L550.10,277.83L550.70,277.83L550.70,275.42L551.30,275.42L551.30,273.02L551.90,273.02L551.90,270.62L552.43,270.62L552.43,268.21L552.97,268.21L552.97,265.81L553.50,265.81L553.50,263.40L556.50,263.40L557.35,263.40L557.35,261.00L558.20,261.00L558.20,258.59L558.97,258.59L558.97,256.19L559.73,256.19L559.73,253.78L560.50,253.78L560.50,251.38L560.87,251.38L560.87,248.97L561.23,248.97L561.23,246.56L561.60,246.56L561.60,244.16L562.17,244.16L562.17,241.75L562.75,241.75L562.75,239.35L563.33,239.35L563.33,236.94L563.90,236.94L563.90,234.54L564.63,234.54L564.63,232.13L565.37,232.13L565.37,229.73L566.10,229.73L566.10,227.32L567.20,227.32L567.20,224.92L568.30,224.92L568.30,222.51L569.40,222.51L569.40,220.11L572.80,220.11L573.02,220.11L573.02,217.70L573.24,217.70L573.24,215.30L573.46,215.30L573.46,212.89L573.68,212.89L573.68,210.49L573.90,210.49L573.90,208.08L575.00,208.08L575.00,205.68L576.10,205.68L576.10,203.27L579.40,203.27L580.17,203.27L580.17,200.87L580.93,200.87L580.93,198.46L581.70,198.46L581.70,196.06L582.25,196.06L582.25,193.66L582.80,193.66L582.80,191.25L585.00,191.25L585.37,191.25L585.37,188.85L585.73,188.85L585.73,186.44L586.10,186.44L586.10,184.04L588.30,184.04L588.30,181.63L588.47,181.63L588.47,179.23L588.63,179.23L588.63,176.82L588.80,176.82L588.80,174.42L589.45,174.42L589.45,172.01L590.10,172.01L590.10,169.61L590.63,169.61L590.63,167.20L591.17,167.20L591.17,164.80L591.70,164.80L591.70,162.39L593.90,162.39L596.80,162.39L597.55,162.39L597.55,159.99L598.30,159.99L598.30,157.58L599.07,157.58L599.07,155.18L599.83,155.18L599.83,152.77L600.60,152.77L600.60,150.37L601.15,150.37L601.15,147.96L601.70,147.96L601.70,145.56L603.40,145.56L603.40,143.15L603.80,143.15L603.80,140.75L604.20,140.75L604.20,138.34L604.60,138.34L604.60,135.94L605.00,135.94L605.00,133.53L605.37,133.53L605.37,131.12L605.73,131.12L605.73,128.72L606.10,128.72L606.10,126.31L607.20,126.31L607.20,123.91L608.30,123.91L608.30,121.50L609.00,121.50L609.00,119.10L609.70,119.10L609.70,116.69L610.65,116.69L610.65,114.29L611.60,114.29L611.60,111.88L616.50,111.88L617.17,111.88L617.17,109.48L617.83,109.48L617.83,107.07L618.50,107.07L618.50,104.67L618.80,104.67L618.80,102.26L619.10,102.26L619.10,99.86L619.40,99.86L619.40,97.45L619.73,97.45L619.73,95.05L620.07,95.05L620.07,92.65L620.40,92.65L620.40,90.24L622.40,90.24L622.40,87.84L624.30,87.84L624.30,85.43L625.50,85.43L625.50,83.03L626.70,83.03L626.70,80.62L629.20,80.62L629.20,78.22L629.70,78.22L629.70,75.81L630.20,75.81L630.20,73.41L632.20,73.41L632.20,71.00L633.15,71.00L633.15,68.60L634.10,68.60L634.10,66.19L636.10,66.19L636.10,63.79L637.05,63.79L637.05,61.38L638.00,61.38L638.00,58.98L640.40,58.98L640.80,58.98L640.80,56.57L641.20,56.57L641.20,54.17L641.60,54.17L641.60,51.76L641.75,51.76L641.75,49.36L641.90,49.36L641.90,46.95L644.90,46.95L645.10,46.95L645.10,44.55L645.30,44.55L645.30,42.14L645.50,42.14L645.50,39.74L645.67,39.74L645.67,37.33L645.85,37.33L645.85,34.93L646.03,34.93L646.03,32.52L646.20,32.52L646.20,30.12L646.60,30.12L646.60,27.71L647.00,27.71L647.00,25.31L647.40,25.31L647.40,22.90" fill="none" stroke="#ff0000" stroke-width="1.9" stroke-linejoin="miter"/>
<g font-family="Liberation Sans" font-size="18.55" fill="#000"><text transform="translate(64.40,531.3) scale(1,1.035)" text-anchor="middle">0</text><text transform="translate(186.02,531.3) scale(1,1.035)" text-anchor="middle">0.5</text><text transform="translate(307.64,531.3) scale(1,1.035)" text-anchor="middle"> </text><text transform="translate(429.26,531.3) scale(1,1.035)" text-anchor="middle"> .5</text><text transform="translate(550.88,531.3) scale(1,1.035)" text-anchor="middle">2</text><text transform="translate(672.50,531.3) scale(1,1.035)" text-anchor="middle">2.5</text><text transform="translate(56,511.10) scale(1,1.035)" text-anchor="end">0</text><text transform="translate(56,463.00) scale(1,1.035)" text-anchor="end">20</text><text transform="translate(56,414.90) scale(1,1.035)" text-anchor="end">40</text><text transform="translate(56,366.80) scale(1,1.035)" text-anchor="end">60</text><text transform="translate(56,318.70) scale(1,1.035)" text-anchor="end">80</text><text transform="translate(56,270.60) scale(1,1.035)" text-anchor="end"> 00</text><text transform="translate(56,222.50) scale(1,1.035)" text-anchor="end"> 20</text><text transform="translate(56,174.40) scale(1,1.035)" text-anchor="end"> 40</text><text transform="translate(56,126.30) scale(1,1.035)" text-anchor="end"> 60</text><text transform="translate(56,78.20) scale(1,1.035)" text-anchor="end"> 80</text><text transform="translate(56,30.10) scale(1,1.035)" text-anchor="end">200</text></g>
<g stroke="#000" stroke-width="1.35"><line x1="631.2" y1="554.3" x2="639.5" y2="562.6"/><line x1="639.5" y1="554.3" x2="631.2" y2="562.6"/></g>
<text font-family="Liberation Sans" font-size="18.55" transform="translate(642.6,562.3) scale(1,1.035)"> 0</text>
<text font-family="Liberation Sans" font-size="14.6" transform="translate(663.9,553.3) scale(1,1.035)">4</text>
<text font-family="Liberation Sans" font-size="20.6" x="367.8" y="558.8" text-anchor="middle">Number of rounds</text>
<text font-family="Liberation Sans" font-size="20.6" transform="translate(14.9,264.0) rotate(-90)" text-anchor="middle">Number of dead nodes</text>
<text font-family="Liberation Sans" font-weight="bold" font-size="20.5" x="368.4" y="14.7" text-anchor="middle">WSN# : Dead nodes vs rounds</text>
<rect x="505.5" y="360" width="161.0" height="138" fill="#fff" stroke="#000" stroke-width="1.9"/><line x1="511" y1="373.30" x2="567" y2="373.30" stroke="#000000" stroke-width="1.9"/><text x="571.1" y="380.60" font-family="Liberation Sans" font-size="16.7">PSOBS</text><line x1="511" y1="395.65" x2="567" y2="395.65" stroke="#ff00ff" stroke-width="1.9"/><text x="571.1" y="402.95" font-family="Liberation Sans" font-size="16.7">PSOGSA</text><line x1="511" y1="418.00" x2="567" y2="418.00" stroke="#0000ff" stroke-width="1.9"/><text x="571.1" y="425.30" font-family="Liberation Sans" font-size="16.7">GAOC</text><line x1="511" y1="440.35" x2="567" y2="440.35" stroke="#00ff00" stroke-width="1.9"/><text x="571.1" y="447.65" font-family="Liberation Sans" font-size="16.7">PSO-ECSM</text><line x1="511" y1="462.70" x2="567" y2="462.70" stroke="#00ffff" stroke-width="1.9"/><text x="571.1" y="470.00" font-family="Liberation Sans" font-size="16.7">NEHCP</text><line x1="511" y1="485.05" x2="567" y2="485.05" stroke="#ff0000" stroke-width="1.9"/><text x="571.1" y="492.35" font-family="Liberation Sans" font-size="16.7">SHO-CH</text>
<g fill="#000"><path transform="matrix(1.00000,0.00000,0.00000,1.03500,307.640,531.300) translate(-5.156,0.000) scale(0.009058,-0.009058)" d="M696,0L515,0L515,1190L180,960L180,1170L560,1409L696,1409Z"/><path transform="matrix(1.00000,0.00000,0.00000,1.03500,429.260,531.300) translate(-12.883,0.000) scale(0.009058,-0.009058)" d="M696,0L515,0L515,1190L180,960L180,1170L560,1409L696,1409Z"/><path transform="matrix(1.00000,0.00000,0.00000,1.03500,56.000,270.600) translate(-30.922,0.000) scale(0.009058,-0.009058)" d="M696,0L515,0L515,1190L180,960L180,1170L560,1409L696,1409Z"/><path transform="matrix(1.00000,0.00000,0.00000,1.03500,56.000,222.500) translate(-30.922,0.000) scale(0.009058,-0.009058)" d="M696,0L515,0L515,1190L180,960L180,1170L560,1409L696,1409Z"/><path transform="matrix(1.00000,0.00000,0.00000,1.03500,56.000,174.400) translate(-30.922,0.000) scale(0.009058,-0.009058)" d="M696,0L515,0L515,1190L180,960L180,1170L560,1409L696,1409Z"/><path transform="matrix(1.00000,0.00000,0.00000,1.03500,56.000,126.300) translate(-30.922,0.000) scale(0.009058,-0.009058)" d="M696,0L515,0L515,1190L180,960L180,1170L560,1409L696,1409Z"/><path transform="matrix(1.00000,0.00000,0.00000,1.03500,56.000,78.200) translate(-30.922,0.000) scale(0.009058,-0.009058)" d="M696,0L515,0L515,1190L180,960L180,1170L560,1409L696,1409Z"/><path transform="matrix(1.00000,0.00000,0.00000,1.03500,642.600,562.300) translate(0.000,0.000) scale(0.009058,-0.009058)" d="M696,0L515,0L515,1190L180,960L180,1170L560,1409L696,1409Z"/><path transform="matrix(1.00000,0.00000,0.00000,1.00000,0.000,0.000) translate(276.111,14.700) scale(0.010010,-0.010010)" d="M759,0L478,0L478,924L86,793L86,1074L470,1409L759,1409Z"/></g>
</svg>
</body></html>
